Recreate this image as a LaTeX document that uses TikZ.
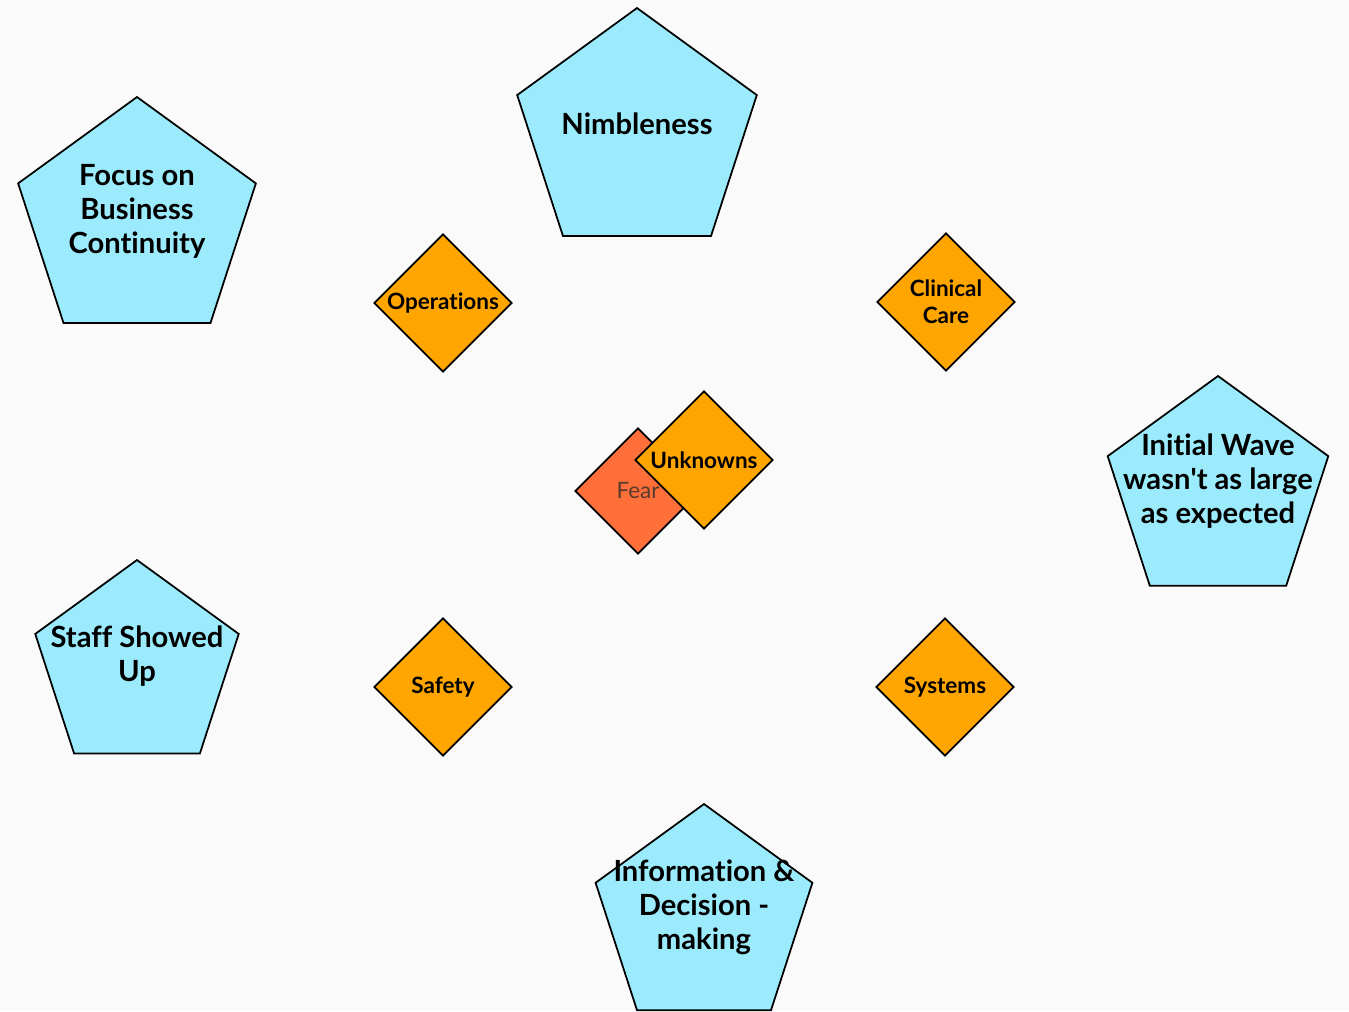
\documentclass[tikz,border=0pt]{standalone}
\usepackage{fontspec}
\setmainfont{Lato}[Ligatures=NoCommon]
\usetikzlibrary{shapes.geometric}
\definecolor{pentblue}{HTML}{9BEBFC}
\definecolor{diaorange}{HTML}{FFA500}
\definecolor{fearred}{HTML}{FF6F3A}
\definecolor{feartext}{HTML}{5A3A2C}
\definecolor{paper}{HTML}{FAFAFA}
\tikzset{
  pent/.style={regular polygon, regular polygon sides=5, draw=black, line width=1pt,
    fill=pentblue, inner sep=0pt},
  pentext/.style={yshift=0.21cm, align=center, inner sep=0pt,
    font=\fontsize{16.6}{19.3}\selectfont\bfseries},
  dia/.style={diamond, aspect=1, draw=black, line width=1pt, fill=diaorange,
    minimum size=2.76cm, inner sep=0pt, align=center,
    font=\fontsize{12.8}{15.3}\selectfont\bfseries}
}
\begin{document}
\begin{tikzpicture}[x=0.02cm, y=-0.02cm]
\useasboundingbox[fill=paper] (0,0) rectangle (1349,1011);

% outer pentagons
\node[pent, minimum size=5.04cm, label={[pentext]center:Nimbleness}] (nimble) at (637,134) {};
\node[pent, minimum size=5cm, label={[pentext]center:Focus on\\Business\\Continuity}] (focus) at (137,222) {};
\node[pent, minimum size=4.64cm, label={[pentext]center:Initial Wave\\wasn\textquotesingle t as large\\as expected}] (wave) at (1218,492) {};
\node[pent, minimum size=4.28cm, label={[pentext]center:Staff Showed\\Up}] (staff) at (137,667) {};
\node[pent, minimum size=4.56cm, label={[pentext]center:Information \&\\Decision -\\making}] (info) at (704,918) {};

% diamonds
\node[dia] (ops) at (443,303) {Operations};
\node[dia] (clin) at (946,302) {Clinical\\Care};
\node[dia] (safety) at (443,687) {Safety};
\node[dia] (sys) at (945,687) {Systems};

% centre
\node[dia, minimum size=2.52cm, fill=fearred, text=feartext,
  font=\fontsize{12.8}{15.3}\selectfont] (fear) at (638,491) {Fear};
\node[dia] (unknown) at (704,460) {Unknowns};
\end{tikzpicture}
\end{document}
